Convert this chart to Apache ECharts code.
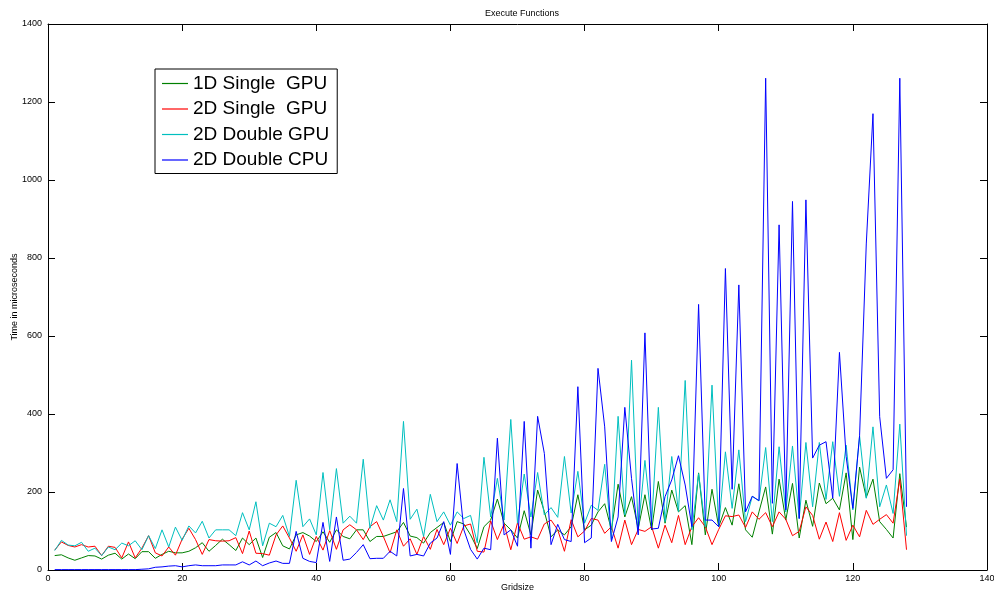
<!DOCTYPE html>
<html>
<head>
<meta charset="utf-8">
<script src="https://cdn.jsdelivr.net/npm/echarts@6/dist/echarts.min.js"></script>
<style>html,body{margin:0;padding:0;background:#fff}#c{width:994px;height:594px}</style>
</head>
<body>
<div id="c"></div>
<script>
const gridsize = Array.from({length: 128}, (_, i) => i + 1);
const seriesNames = ['1D Single  GPU', '2D Single  GPU', '2D Double GPU', '2D Double CPU'];
const xTicks = [0, 20, 40, 60, 80, 100, 120, 140];
const yTicks = [0, 200, 400, 600, 800, 1000, 1200, 1400];

const single1D = [
  37, 39, 31, 25, 31, 37, 36, 28, 38, 43, 28, 41, 29, 47, 47, 30,
  40, 48, 44, 44, 48, 57, 70, 48, 63, 79, 65, 50, 82, 65, 82, 32,
  84, 96, 62, 54, 90, 96, 87, 73, 98, 71, 103, 86, 80, 103, 103, 73,
  86, 86, 92, 98, 122, 87, 83, 69, 96, 109, 122, 73, 124, 118, 90, 55,
  111, 128, 182, 120, 103, 82, 152, 90, 205, 150, 85, 103, 90, 111, 193, 103,
  115, 149, 170, 103, 220, 136, 188, 106, 193, 103, 227, 120, 205, 149, 165, 65,
  249, 90, 207, 111, 160, 115, 221, 103, 84, 149, 213, 92, 233, 128, 222, 82, 179,
  112, 223, 170, 184, 154, 249, 78, 264, 186, 233, 124, 104, 82, 247, 110
];
const single2D = [
  51, 72, 63, 59, 65, 59, 61, 37, 61, 58, 31, 72, 31, 56, 88, 44,
  36, 59, 38, 79, 107, 78, 40, 78, 75, 74, 75, 83, 42, 100, 43, 42,
  38, 90, 113, 82, 48, 90, 40, 86, 51, 101, 53, 103, 116, 103, 78, 111,
  124, 86, 44, 103, 61, 80, 40, 86, 53, 104, 65, 107, 68, 113, 118, 48,
  46, 126, 78, 118, 52, 121, 79, 85, 79, 118, 128, 103, 48, 129, 85, 100,
  132, 128, 94, 111, 56, 128, 65, 104, 99, 111, 56, 115, 70, 140, 65, 111,
  134, 111, 65, 104, 139, 137, 141, 109, 149, 130, 147, 111, 149, 130, 88, 99, 162,
  140, 79, 123, 73, 147, 76, 115, 85, 153, 117, 130, 142, 120, 233, 52
];
const double2D = [
  50, 76, 64, 62, 71, 48, 56, 37, 59, 52, 69, 62, 75, 52, 88, 55,
  103, 59, 110, 76, 113, 95, 125, 82, 103, 103, 103, 88, 147, 103, 175, 62,
  120, 111, 140, 86, 230, 111, 131, 90, 250, 103, 260, 120, 138, 120, 284, 107,
  165, 128, 180, 124, 381, 130, 156, 86, 194, 124, 149, 115, 149, 132, 140, 70,
  289, 136, 235, 128, 386, 120, 246, 136, 250, 141, 160, 135, 291, 146, 253, 120,
  166, 153, 271, 78, 394, 141, 538, 103, 281, 120, 417, 124, 291, 150, 486, 103,
  247, 111, 474, 111, 303, 158, 308, 124, 189, 177, 314, 124, 316, 149, 318, 132, 327,
  162, 327, 181, 329, 189, 320, 154, 344, 184, 367, 162, 218, 145, 374, 88
];
const doubleCPU = [
  1, 1, 1, 1, 1, 1, 1, 1, 1, 1, 1, 1, 1, 2, 3, 7,
  8, 10, 11, 8, 11, 13, 11, 11, 11, 13, 13, 13, 21, 13, 23, 11,
  18, 23, 17, 17, 99, 30, 22, 19, 122, 22, 136, 25, 28, 45, 65, 29,
  30, 30, 48, 36, 209, 36, 40, 36, 69, 82, 124, 40, 273, 103, 53, 28,
  56, 52, 338, 90, 103, 61, 381, 56, 394, 299, 65, 117, 78, 73, 470, 70,
  82, 517, 367, 73, 136, 417, 235, 90, 608, 105, 107, 188, 231, 293, 218, 111,
  681, 128, 128, 111, 773, 207, 731, 149, 189, 178, 1261, 171, 885, 154, 945, 132, 949,
  287, 320, 329, 184, 558, 291, 158, 344, 836, 1170, 393, 235, 257, 1261, 162
];

const colors = ['#008000', '#ff0000', '#00bfbf', '#0000ff'];
const values = [single1D, single2D, double2D, doubleCPU];

const FONT = 'Liberation Sans, Arial, sans-serif';

const chart = echarts.init(document.getElementById('c'), null, {renderer: 'canvas'});

const axisCommon = {
  type: 'value',
  axisLine: {show: true, onZero: false, lineStyle: {color: '#000', width: 1}},
  axisTick: {show: true, inside: true, length: 7, lineStyle: {color: '#000', width: 1}},
  splitLine: {show: false}
};

chart.setOption({
  animation: false,
  backgroundColor: '#fff',
  title: {
    text: 'Execute Functions',
    left: 517, top: 4, textAlign: 'center',
    textStyle: {fontFamily: FONT, fontSize: 9, fontWeight: 'normal', color: '#000'}
  },
  grid: {left: 48, right: 7, top: 24, bottom: 24, containLabel: false, outerBoundsMode: 'none'},
  legend: {
    orient: 'vertical',
    left: 155, top: 69,
    padding: [5, 8, 4, 7],
    itemGap: 6.5,
    itemWidth: 26, itemHeight: 1.2,
    icon: 'rect',
    borderColor: '#000', borderWidth: 1,
    backgroundColor: '#fff',
    textStyle: {fontFamily: FONT, fontSize: 19, color: '#000', lineHeight: 18},
    data: seriesNames
  },
  xAxis: [
    Object.assign({}, axisCommon, {
      position: 'bottom', min: xTicks[0], max: xTicks[xTicks.length - 1], interval: 20,
      name: 'Gridsize', nameLocation: 'middle', nameGap: 13, nameMoveOverlap: false,
      nameTextStyle: {fontFamily: FONT, fontSize: 9, color: '#000'},
      axisLabel: {fontFamily: FONT, fontSize: 9, color: '#000', margin: 4, formatter: v => String(v)}
    }),
    Object.assign({}, axisCommon, {
      position: 'top', min: xTicks[0], max: xTicks[xTicks.length - 1], interval: 20,
      axisLabel: {show: false}
    })
  ],
  yAxis: [
    Object.assign({}, axisCommon, {
      position: 'left', min: yTicks[0], max: yTicks[yTicks.length - 1], interval: 200,
      name: 'Time in microseconds', nameLocation: 'middle', nameGap: 29, nameMoveOverlap: false,
      nameTextStyle: {fontFamily: FONT, fontSize: 9, color: '#000'},
      axisLabel: {fontFamily: FONT, fontSize: 9, color: '#000', margin: 6, formatter: v => String(v)}
    }),
    Object.assign({}, axisCommon, {
      position: 'right', min: yTicks[0], max: yTicks[yTicks.length - 1], interval: 200,
      axisLabel: {show: false}
    })
  ],
  series: seriesNames.map((name, k) => ({
    name: name,
    type: 'line',
    xAxisIndex: 0, yAxisIndex: 0,
    symbol: 'none',
    color: colors[k],
    lineStyle: {color: colors[k], width: 1},
    itemStyle: {color: colors[k]},
    data: gridsize.map((g, i) => [g, values[k][i]])
  }))
});
</script>
</body>
</html>
